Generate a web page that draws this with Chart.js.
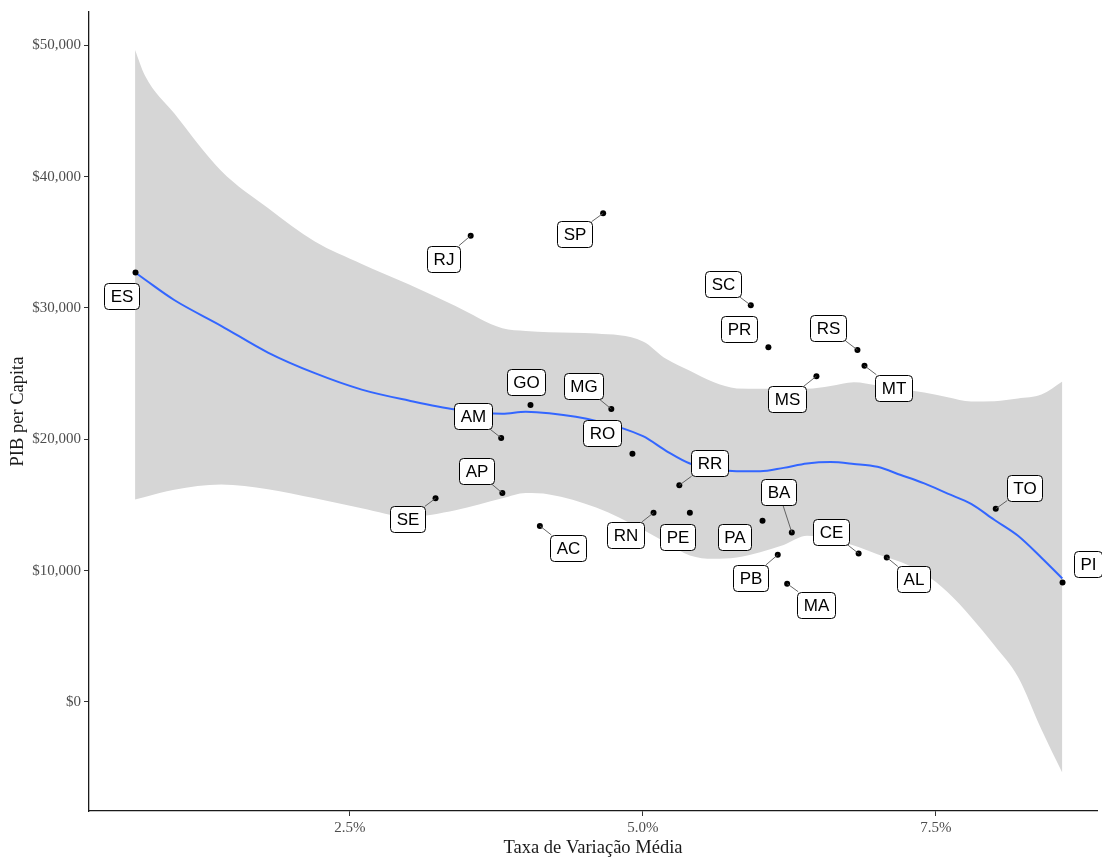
<!DOCTYPE html>
<html>
<head>
<meta charset="utf-8">
<script src="https://cdn.jsdelivr.net/npm/chart.js@4/dist/chart.umd.min.js"></script>
<style>
  html, body { margin: 0; padding: 0; background: #ffffff; }
  canvas { display: block; }
</style>
</head>
<body>
<canvas id="chart" width="1102" height="859"></canvas>
<script>
// States and their values
const states = ['ES','RJ','SP','GO','MG','AM','RO','AP','SE','AC','RR','RN','PE',
                'PA','BA','PB','MA','SC','PR','RS','MT','MS','TO','CE','AL','PI'];
// average growth rate, in percent
const growthRate = [0.67, 3.53, 4.66, 4.04, 4.73, 3.79, 4.91, 3.80, 3.23, 4.12, 5.31, 5.09, 5.40,
                    6.02, 6.27, 6.15, 6.23, 5.92, 6.07, 6.83, 6.89, 6.48, 8.01, 6.84, 7.08, 8.58];
// GDP per capita
const gdpPerCapita = [32700, 35500, 37200, 22600, 22300, 20100, 18900, 15900, 15500, 13400, 16500, 14400, 14400,
                      13800, 12900, 11200, 9000, 30200, 27000, 26800, 25600, 24800, 14700, 11300, 11000, 9100];

// Smoothed trend and its confidence band
const smoothX     = [0.666, 0.75, 1.0, 1.4, 1.8, 2.2, 2.6, 3.0, 3.4, 3.8, 4.0, 4.2, 4.6, 5.0, 5.2, 5.4, 5.6,
                     5.8, 6.0, 6.2, 6.4, 6.6, 6.8, 7.0, 7.2, 7.4, 7.6, 7.8, 8.0, 8.2, 8.4, 8.578];
const smoothFit   = [32700, 32160, 30600, 28640, 26600, 25030, 23780, 22950, 22270, 21950, 22100, 21980, 21400,
                     20230, 19100, 18150, 17750, 17560, 17560, 17820, 18150, 18260, 18120, 17900, 17280, 16640,
                     15860, 15080, 13850, 12650, 10980, 9400];
const smoothUpper = [49630, 47700, 44820, 40450, 37600, 35050, 33350, 31800, 30150, 28450, 28250, 28150, 28050,
                     27450, 26100, 25210, 24350, 23870, 23840, 23840, 23840, 24060, 24340, 24100, 23800, 23550,
                     23200, 22870, 22900, 23100, 23400, 24400];
const smoothLower = [15410, 15600, 16150, 16550, 16200, 15500, 14750, 14100, 14600, 15500, 15900, 15800, 14800,
                     13100, 12100, 11150, 10900, 11000, 11400, 11950, 12650, 12400, 11900, 11250, 10650, 9750,
                     8350, 6450, 4300, 1900, -2100, -5400];

// Axis ticks
const xTickValues = [2.5, 5.0, 7.5];
const yTickValues = [0, 10000, 20000, 30000, 40000, 50000];

// Label placement: pixel offset of the label box from its point, and whether a leader segment is drawn
const labelPlacement = {
  ES: [-14, 24, false], RJ: [-27, 23, true],  SP: [-29, 21, true],  GO: [-4, -23, false],
  MG: [-28, -23, true], AM: [-28, -22, true], RO: [-30, -21, false], AP: [-26, -22, true],
  SE: [-28, 21, true],  AC: [28, 22, true],   RR: [30, -22, true],  RN: [-28, 22, true],
  PE: [-12, 24, false], PA: [-28, 16, false], BA: [-13, -40, true], PB: [-27, 23, true],
  MA: [29, 21, true],   SC: [-28, -21, true], PR: [-29, -18, false], RS: [-29, -22, true],
  MT: [29, 22, true],   MS: [-29, 23, true],  TO: [29, -21, true],  CE: [-28, -22, true],
  AL: [27, 22, true],   PI: [25, -18, false]
};

const toXY = (xs, ys) => xs.map((x, i) => ({ x: x, y: ys[i] }));

// Boxed state labels with leader segments
const stateLabels = {
  id: 'stateLabels',
  afterDatasetsDraw(chart) {
    const meta = chart.getDatasetMeta(3);
    const ctx = chart.ctx;
    ctx.save();
    ctx.font = '17px "Liberation Sans", Arial, sans-serif';
    ctx.textAlign = 'center';
    ctx.textBaseline = 'middle';
    meta.data.forEach((el, i) => {
      const name = states[i];
      const [dx, dy, seg] = labelPlacement[name];
      const px = el.x, py = el.y;
      const cx = px + dx, cy = py + dy;
      const w = Math.round(ctx.measureText(name).width + 12);
      const h = 26;
      if (seg) {
        const vx = cx - px, vy = cy - py;
        const sx = vx !== 0 ? (w / 2) / Math.abs(vx) : Infinity;
        const sy = vy !== 0 ? (h / 2) / Math.abs(vy) : Infinity;
        const s = Math.min(sx, sy, 1);
        const ex = cx - vx * s, ey = cy - vy * s;
        ctx.beginPath();
        ctx.moveTo(px, py);
        ctx.lineTo(ex, ey);
        ctx.strokeStyle = '#555555';
        ctx.lineWidth = 0.9;
        ctx.stroke();
      }
      const bx = Math.round(cx - w / 2) + 0.5;
      const by = Math.round(cy - h / 2) + 0.5;
      ctx.beginPath();
      ctx.roundRect(bx, by, w, h, 4);
      ctx.fillStyle = '#ffffff';
      ctx.fill();
      ctx.strokeStyle = '#000000';
      ctx.lineWidth = 1;
      ctx.stroke();
      ctx.fillStyle = '#000000';
      ctx.fillText(name, bx + w / 2, by + h / 2 + 1);
    });
    ctx.restore();
  }
};

const serif = '"Liberation Serif", "Times New Roman", serif';

new Chart(document.getElementById('chart'), {
  type: 'scatter',
  data: {
    datasets: [
      {
        label: 'upper',
        data: toXY(smoothX, smoothUpper),
        showLine: true,
        pointRadius: 0,
        borderWidth: 0,
        borderColor: 'rgba(0,0,0,0)',
        backgroundColor: '#d6d6d6',
        cubicInterpolationMode: 'monotone',
        fill: '+1',
        order: 3
      },
      {
        label: 'lower',
        data: toXY(smoothX, smoothLower),
        showLine: true,
        pointRadius: 0,
        borderWidth: 0,
        borderColor: 'rgba(0,0,0,0)',
        cubicInterpolationMode: 'monotone',
        fill: false,
        order: 4
      },
      {
        label: 'fit',
        data: toXY(smoothX, smoothFit),
        showLine: true,
        pointRadius: 0,
        borderWidth: 2,
        borderColor: '#3366ff',
        cubicInterpolationMode: 'monotone',
        fill: false,
        order: 1
      },
      {
        label: 'states',
        data: toXY(growthRate, gdpPerCapita),
        pointRadius: 3,
        pointBackgroundColor: '#000000',
        pointBorderWidth: 0,
        order: 0
      }
    ]
  },
  options: {
    responsive: false,
    animation: false,
    devicePixelRatio: 1,
    layout: { padding: { top: 9, right: 5, bottom: 0, left: 0 } },
    plugins: {
      legend: { display: false },
      tooltip: { enabled: false }
    },
    scales: {
      x: {
        type: 'linear',
        min: 0.273,
        max: 8.874,
        afterBuildTicks: (scale) => { scale.ticks = xTickValues.map(v => ({ value: v })); },
        afterFit: (scale) => { scale.height = 48; },
        border: { display: true, color: '#1a1a1a', width: 1.3 },
        grid: { display: true, drawOnChartArea: false, drawTicks: true, tickLength: 5, color: '#333333' },
        ticks: {
          color: '#4d4d4d',
          font: { family: serif, size: 15 },
          padding: 3,
          maxRotation: 0,
          callback: (v) => Number(v).toFixed(1) + '%'
        },
        title: {
          display: true,
          text: 'Taxa de Variação Média',
          color: '#1a1a1a',
          font: { family: serif, size: 18.5 },
          padding: { top: 0, bottom: 0 }
        }
      },
      y: {
        type: 'linear',
        min: -8306,
        max: 52530,
        afterBuildTicks: (scale) => { scale.ticks = yTickValues.map(v => ({ value: v })); },
        afterFit: (scale) => { scale.width = 89; },
        border: { display: true, color: '#1a1a1a', width: 1.3 },
        grid: { display: true, drawOnChartArea: false, drawTicks: true, tickLength: 5, color: '#333333' },
        ticks: {
          color: '#4d4d4d',
          font: { family: serif, size: 15 },
          padding: 3,
          callback: (v) => '$' + Number(v).toLocaleString('en-US')
        },
        title: {
          display: true,
          text: 'PIB per Capita',
          color: '#1a1a1a',
          font: { family: serif, size: 18.5 },
          padding: { top: 7, bottom: 0 }
        }
      }
    }
  },
  plugins: [stateLabels]
});
</script>
</body>
</html>
